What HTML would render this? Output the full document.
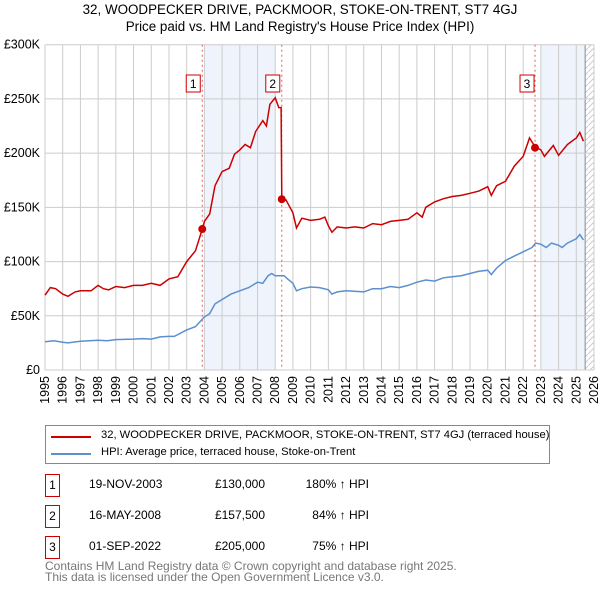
<!DOCTYPE html>
<html><head><meta charset="utf-8"><style>
body{margin:0;background:#fff;font-family:"Liberation Sans","DejaVu Sans",sans-serif;}
#wrap{position:relative;width:600px;height:590px;overflow:hidden;}
.t{position:absolute;font-size:12px;color:#000;white-space:nowrap;}
</style></head><body><div id="wrap">
<svg id="svg" width="600" height="590" style="position:absolute;left:0;top:0">
<defs><pattern id="hatch" width="6" height="6" patternUnits="userSpaceOnUse"><path d="M0,6 L6,0" stroke="#ccc" stroke-width="1"/></pattern></defs>
<text x="300" y="14" text-anchor="middle" font-size="13.4">32, WOODPECKER DRIVE, PACKMOOR, STOKE-ON-TRENT, ST7 4GJ</text>
<text x="300" y="31" text-anchor="middle" font-size="13.4">Price paid vs. HM Land Registry's House Price Index (HPI)</text>
<g id="plot"></g>
</svg>
<div style="position:absolute;left:45px;top:425px;width:503px;height:37px;border:1px solid #888;">
<div style="position:absolute;left:5px;top:10px;width:40px;height:2px;background:#cc0000"></div>
<div class="t" style="left:55px;top:3px;font-size:11.2px">32, WOODPECKER DRIVE, PACKMOOR, STOKE-ON-TRENT, ST7 4GJ (terraced house)</div>
<div style="position:absolute;left:5px;top:27px;width:40px;height:2px;background:#5b8fd0"></div>
<div class="t" style="left:55px;top:20px;font-size:11.2px">HPI: Average price, terraced house, Stoke-on-Trent</div>
</div>
<div id="rows"></div>
<div class="t" style="left:45px;top:561px;color:#777;font-size:12px;line-height:11px">Contains HM Land Registry data © Crown copyright and database right 2025.<br>This data is licensed under the Open Government Licence v3.0.</div>
</div>
<script>
const hpiYears=[1995,1995.5,1996,1996.3,1997,1998,1998.5,1999,2000,2000.5,2001,2001.5,2002,2002.3,2003,2003.5,2004,2004.3,2004.6,2005,2005.5,2006,2006.5,2007,2007.3,2007.6,2007.8,2008,2008.5,2008.7,2009,2009.2,2009.5,2010,2010.5,2011,2011.2,2011.5,2012,2013,2013.5,2014,2014.5,2015,2015.5,2016,2016.5,2017,2017.5,2018,2018.5,2019,2019.5,2020,2020.2,2020.5,2021,2021.5,2022,2022.5,2022.7,2023,2023.3,2023.6,2024,2024.2,2024.5,2025,2025.2,2025.4];
const hpiValues=[26,27,25.5,25,26.5,27.5,27,28,28.5,29,28.5,30.5,31,31,37,40,49,52,61,65,70,73,76,81,80,87,89,87,87,84,80,73,75,76.5,76,74,70,72,73,72,75,75,77,76,78,81,83,82,85,86,87,89,91,92,88,94,101,105,109,113,117,116,113,117,115,113,117,121,125,120];
const redYears=[1995,1995.3,1995.6,1996,1996.3,1996.7,1997,1997.6,1998,1998.3,1998.6,1999,1999.5,2000,2000.5,2001,2001.5,2002,2002.5,2003,2003.5,2003.88,2004,2004.3,2004.6,2005,2005.4,2005.7,2006,2006.3,2006.6,2006.9,2007.3,2007.5,2007.7,2008,2008.2,2008.33,2008.37,2008.6,2009,2009.2,2009.5,2010,2010.5,2010.8,2011,2011.2,2011.5,2012,2012.5,2013,2013.5,2014,2014.5,2015,2015.5,2016,2016.3,2016.5,2017,2017.5,2018,2018.5,2019,2019.5,2020,2020.2,2020.5,2021,2021.5,2022,2022.36,2022.67,2023,2023.2,2023.7,2024,2024.5,2025,2025.2,2025.4];
const redValues=[69,76,75,70,68,72,73,73,78,75,74,77,76,78,78,80,78,84,86,100,110,130,137,144,170,183,186,199,203,208,205,220,230,225,245,251,242,242,157.5,157,145,131,140,138,139,141,133,127,132,131,132,131,135,134,137,138,139,145,141,150,155,158,160,161,163,165,169,161,170,174,188,197,214,206,203,197,207,198,208,214,219,211];
const yTicks=[0,50,100,150,200,250,300];
const yTickLabels=["£0","£50K","£100K","£150K","£200K","£250K","£300K"];
const xTicks=[1995,1996,1997,1998,1999,2000,2001,2002,2003,2004,2005,2006,2007,2008,2009,2010,2011,2012,2013,2014,2015,2016,2017,2018,2019,2020,2021,2022,2023,2024,2025,2026];
const saleYears=[2003.88,2008.37,2022.67];
const saleValues=[130,157.5,205];
const saleLabels=["1","2","3"];
const saleDates=["19-NOV-2003","16-MAY-2008","01-SEP-2022"];
const salePrices=["£130,000","£157,500","£205,000"];
const saleHpi=["180% ↑ HPI","84% ↑ HPI","75% ↑ HPI"];
const shadeRanges=[[2004,2008],[2023,2025.5]];

const X0=45,X1=594,Y0=370,Y1=44.7;
const xs=y=>X0+(y-1995)/(2026-1995)*(X1-X0);
const ys=v=>Y0-v/300*(Y0-Y1);
const NS="http://www.w3.org/2000/svg";
const plot=document.getElementById('plot');
function mk(tag,attrs,parent){const e=document.createElementNS(NS,tag);for(const k in attrs)e.setAttribute(k,attrs[k]);(parent||plot).appendChild(e);return e;}
shadeRanges.forEach(r=>{const e=mk('rect',{x:xs(r[0]),y:Y1,width:xs(r[1])-xs(r[0]),height:Y0-Y1,fill:'#eef3fc'});

});
const h=mk('rect',{x:xs(2025.5),y:Y1,width:X1-xs(2025.5),height:Y0-Y1,fill:'url(#hatch)'});


mk('line',{x1:xs(2025.5),x2:xs(2025.5),y1:Y1,y2:Y0,stroke:'#888'});
xTicks.forEach(t=>{const g=mk('line',{x1:xs(t),x2:xs(t),y1:Y1,y2:Y0,stroke:'#ccc'});


const l=mk('text',{x:0,y:0,'font-size':12.5,transform:`translate(${xs(t)+4},${Y0+6}) rotate(-90)`,'text-anchor':'end'});
l.textContent=t;

});
yTicks.forEach((t,i)=>{const g=mk('line',{x1:X0,x2:X1,y1:ys(t),y2:ys(t),stroke:'#ccc'});


const l=mk('text',{x:X0-5,y:ys(t)+4,'font-size':12.5,'text-anchor':'end'});
l.textContent=yTickLabels[i];

});
saleYears.forEach((y,i)=>{const l=mk('line',{x1:xs(y),x2:xs(y),y1:Y1,y2:Y0,stroke:'#e06060','stroke-dasharray':'2,3'});

});
function path(xa,va,col,name){const d=xa.map((x,i)=>(i?'L':'M')+xs(x).toFixed(1)+','+ys(va[i]).toFixed(1)).join('');
const p=mk('path',{d:d,fill:'none',stroke:col,'stroke-width':1.5});

}
path(hpiYears,hpiValues,'#5b8fd0','hpi-line');
path(redYears,redValues,'#cc0000','property-price-line');
saleYears.forEach((y,i)=>{const c=mk('circle',{cx:xs(y),cy:ys(saleValues[i]),r:4,fill:'#cc0000'});


const bx=xs(y)-8-(i==2?0:1);
const b=mk('rect',{x:bx-7,y:75,width:14,height:17,fill:'#fff',stroke:'#cc0000'});


const t=mk('text',{x:bx,y:88,'font-size':12,'text-anchor':'middle'});
t.textContent=saleLabels[i];

});
const rows=document.getElementById('rows');
saleLabels.forEach((s,i)=>{const top=474+i*31;
const r=document.createElement('div');


r.innerHTML=`<div class="t" style="left:45px;top:${top}px;width:13px;height:21px;border:1px solid #cc0000;text-align:center;line-height:21px">${s}</div>
<div class="t" style="left:89px;top:${top+3}px">${saleDates[i]}</div>
<div class="t" style="left:195px;top:${top+3}px;width:70px;text-align:right">${salePrices[i]}</div>
<div class="t" style="left:289px;top:${top+3}px;width:80px;text-align:right">${saleHpi[i]}</div>`;
rows.appendChild(r);});
</script></body></html>
